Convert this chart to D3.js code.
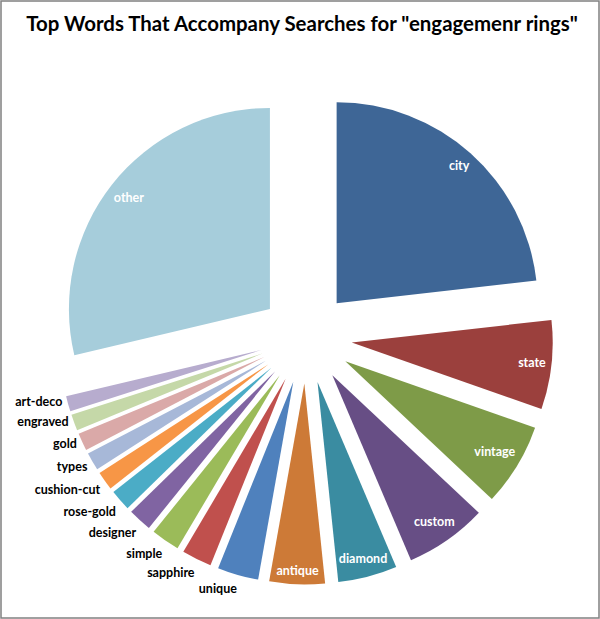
<!DOCTYPE html>
<html>
<head>
<meta charset="utf-8">
<script src="https://cdn.jsdelivr.net/npm/d3@7"></script>
<style>
  html, body { margin: 0; padding: 0; background: #fff; }
  svg { display: block; }
</style>
</head>
<body>
<svg id="chart" width="600" height="619"></svg>
<script>
// ---- data ----
const title = 'Top Words That Accompany Searches for "engagemenr rings"';
const categories = ["city","state","vintage","custom","diamond","antique","unique","sapphire","simple","designer","rose-gold","cushion-cut","types","gold","engraved","art-deco","other"];
const shares = [23.2, 7.15, 6.65, 6.6, 4.75, 4.45, 3.3, 2.4, 2.3, 1.9, 1.7, 1.5, 1.45, 1.4, 1.3, 1.25, 28.7];
const colors = ["#3E6696","#9B403D","#7E9B48","#674E85","#3A8CA1","#CD7A37","#4F81BD","#C0504D","#9BBB59","#8064A2","#4BACC6","#F79646","#A7B8D8","#DAA9A8","#C5D8A8","#B7ACCE","#A6CDDB"];

// ---- layout ----
const W = 600, H = 619;
const cx = 306, cy = 337.5, R = 201, explode = 46;
const fontFamily = "Lato, 'Open Sans', 'DejaVu Sans', sans-serif";

const svg = d3.select("#chart");

svg.append("rect")
  .attr("x", 1).attr("y", 1).attr("width", W - 2).attr("height", H - 2)
  .attr("fill", "#fff").attr("stroke", "#808080").attr("stroke-width", 1.5);

// title, fitted to the reference width
const t = svg.append("text")
  .attr("x", W / 2 + 2).attr("y", 31)
  .attr("text-anchor", "middle")
  .attr("font-family", fontFamily).attr("font-weight", "bold")
  .attr("font-size", 20).attr("fill", "#000")
  .text(title);
const tw = t.node().getComputedTextLength();
t.attr("font-size", 20 * 552 / tw);

const pie = d3.pie().sort(null).value(d => d.v);
const arcs = pie(categories.map((c, i) => ({ c, v: shares[i], col: colors[i] })));
const arc = d3.arc().innerRadius(0).outerRadius(R);

const dir = a => [Math.sin(a), -Math.cos(a)];

const g = svg.append("g").attr("transform", `translate(${cx},${cy})`);

arcs.forEach(a => {
  const mid = (a.startAngle + a.endAngle) / 2;
  const [dx, dy] = dir(mid);
  a.mid = mid; a.dx = dx; a.dy = dy;
  a.ox = dx * explode; a.oy = dy * explode;
});

g.selectAll("path.slice").data(arcs).enter().append("path")
  .attr("class", "slice")
  .attr("transform", d => `translate(${d.ox},${d.oy})`)
  .attr("d", arc)
  .attr("fill", d => d.data.col);

const fs = 12.5, boxH = 14;
const labels = g.selectAll("text.lbl").data(arcs).enter().append("text")
  .attr("class", "lbl")
  .attr("font-family", fontFamily).attr("font-weight", "bold")
  .attr("font-size", fs)
  .text(d => d.data.c);

labels.each(function(d) {
  const el = d3.select(this);
  const w = this.getComputedTextLength();
  const span = (d.endAngle - d.startAngle) * 180 / Math.PI;
  if (span > 14) {
    // inside end: farthest box corner sits 5px inside the arc
    let lo = 0, hi = R;
    for (let k = 0; k < 40; k++) {
      const m = (lo + hi) / 2;
      const px = m * d.dx, py = m * d.dy;
      let far = 0;
      [[-1,-1],[1,-1],[-1,1],[1,1]].forEach(([sx, sy]) => {
        far = Math.max(far, Math.hypot(px + sx * w / 2, py + sy * boxH / 2));
      });
      if (far > R - 5) hi = m; else lo = m;
    }
    el.attr("x", d.ox + lo * d.dx).attr("y", d.oy + lo * d.dy + fs * 0.35)
      .attr("text-anchor", "middle").attr("fill", "#fff");
  } else {
    const ax = d.ox + (R + 7) * d.dx, ay = d.oy + (R + 7) * d.dy;
    const k = Math.max(-0.6, Math.min(1, (d.dy - 0.45) / 0.2));
    el.attr("x", ax + 1).attr("y", ay + 7 * k + fs * 0.35)
      .attr("text-anchor", "end").attr("fill", "#000");
  }
});
</script>
</body>
</html>
